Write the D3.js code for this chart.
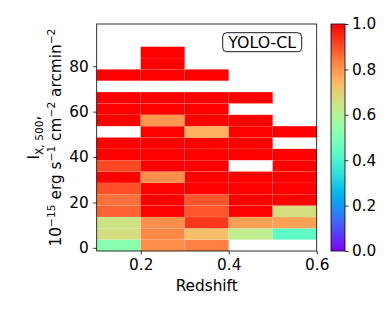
<!DOCTYPE html>
<html>
<head>
<meta charset="utf-8">
<script src="https://cdn.jsdelivr.net/npm/d3@7"></script>
<style>
  html, body { margin: 0; padding: 0; background: #fff; }
  svg { display: block; font-family: "DejaVu Sans", sans-serif; }
</style>
</head>
<body>
<svg id="chart" width="390" height="312"></svg>
<script>
// ---- data ----
const xEdges = [0.1, 0.2, 0.3, 0.4, 0.5, 0.6];
const yBinStarts = [-1.4, 3.6, 8.6, 13.6, 18.6, 23.6, 28.6, 33.6, 38.6, 43.6,
                    48.6, 53.6, 58.6, 63.6, 68.6, 73.6, 78.6, 83.6, 88.6, 93.6];
const binHeight = 5;
// values per redshift column, from the bottom row upwards (null = empty)
const col1 = [0.52, 0.665, 0.65, 0.875, 0.855, 0.90, 1, 0.91, 1, 1, null, 1, 1, 1, null, 1, null, null, null, null];
const col2 = [0.81, 0.822, 0.81, 1, 1, 1, 0.81, 1, 1, 1, 1, 0.80, 1, 1, null, 1, 1, 1, null, null];
const col3 = [0.833, 0.73, 0.93, 0.89, 0.89, 1, 1, 1, 1, 1, 0.757, 1, 1, 1, null, 1, null, null, null, null];
const col4 = [null, 0.625, 0.783, 1, 1, 1, 1, null, 1, 1, 1, 1, null, 1, null, null, null, null, null, null];
const col5 = [null, 0.435, 0.783, 0.667, 1, 1, 1, 1, 1, null, 1, null, null, null, null, null, null, null, null, null];
const columns = [col1, col2, col3, col4, col5];
const xTicks = [0.2, 0.4, 0.6];
const yTicks = [0, 20, 40, 60, 80];
const cbTicks = [0.0, 0.2, 0.4, 0.6, 0.8, 1.0];
const yDomain = [-1.4, 98.6];

// ---- layout ----
const svg = d3.select("#chart");
const plot = { left: 96.7, right: 316.7, top: 24, bottom: 251 };
const cb = { left: 331, right: 345, top: 24, bottom: 251 };
const FS = 15.3;

const x = d3.scaleLinear().domain([xEdges[0], xEdges[xEdges.length - 1]]).range([plot.left, plot.right]);
const y = d3.scaleLinear().domain(yDomain).range([plot.bottom, plot.top]);

// matplotlib "rainbow" colormap
function rainbow(t) {
  const r = Math.min(1, Math.abs(2 * t - 0.5));
  const g = Math.sin(Math.PI * t);
  const b = Math.cos(Math.PI * t / 2);
  return d3.rgb(r * 255, g * 255, b * 255).formatHex();
}
const color = d3.scaleSequential(rainbow).domain([0, 1]);

// ---- cells ----
const cells = [];
columns.forEach((col, i) => {
  col.forEach((v, j) => {
    if (v !== null) cells.push({ x0: xEdges[i], x1: xEdges[i + 1], y0: yBinStarts[j], y1: yBinStarts[j] + binHeight, v });
  });
});
svg.append("g").selectAll("rect").data(cells).join("rect")
  .attr("x", d => x(d.x0))
  .attr("y", d => y(d.y1))
  .attr("width", d => x(d.x1) - x(d.x0))
  .attr("height", d => y(d.y0) - y(d.y1))
  .attr("fill", d => color(d.v))
  .attr("stroke", "rgba(255,255,255,0.12)")
  .attr("stroke-width", 0.5);

// ---- axes ----
const xAxis = svg.append("g").attr("transform", `translate(0,${plot.bottom})`)
  .call(d3.axisBottom(x).tickValues(xTicks).tickFormat(d3.format(".1f")).tickSizeOuter(0).tickSize(3.5).tickPadding(4.5));
const yAxis = svg.append("g").attr("transform", `translate(${plot.left},0)`)
  .call(d3.axisLeft(y).tickValues(yTicks).tickFormat(d3.format("d")).tickSizeOuter(0).tickSize(3.5).tickPadding(4.5));
[xAxis, yAxis].forEach(a => {
  a.select(".domain").remove();
  a.selectAll("line").attr("stroke", "#000").attr("stroke-width", 0.8);
  a.selectAll("text").attr("font-size", FS).attr("fill", "#000").attr("font-family", "DejaVu Sans");
});

// frame
svg.append("rect")
  .attr("x", plot.left).attr("y", plot.top)
  .attr("width", plot.right - plot.left).attr("height", plot.bottom - plot.top)
  .attr("fill", "none").attr("stroke", "#000").attr("stroke-width", 0.8);

// axis labels
svg.append("text")
  .attr("x", (plot.left + plot.right) / 2).attr("y", 291)
  .attr("text-anchor", "middle").attr("font-size", FS).text("Redshift");

const yl = svg.append("text")
  .attr("transform", `translate(39,${(plot.top + plot.bottom) / 2}) rotate(-90)`)
  .attr("text-anchor", "middle").attr("font-size", FS);
yl.append("tspan").text("I");
yl.append("tspan").attr("font-size", FS * 0.7).attr("dy", 3.5).text("X, 500");
yl.append("tspan").attr("dy", -3.5).text(",");

const yl2 = svg.append("text")
  .attr("transform", `translate(61,${(plot.top + plot.bottom) / 2}) rotate(-90)`)
  .attr("text-anchor", "middle").attr("font-size", FS);
const sup = (txt) => {
  yl2.append("tspan").attr("font-size", FS * 0.7).attr("dy", -6).text(txt);
};
const norm = (txt) => {
  yl2.append("tspan").attr("font-size", FS).attr("dy", 6).text(txt);
};
yl2.append("tspan").text("10");
sup("\u221215");
norm(" erg s");
sup("\u22121");
norm(" cm");
sup("\u22122");
norm(" arcmin");
sup("\u22122");

// legend-like box
const boxG = svg.append("g");
boxG.append("rect")
  .attr("x", 222.7).attr("y", 32.7).attr("width", 79).attr("height", 19)
  .attr("rx", 4).attr("ry", 4)
  .attr("fill", "#fff").attr("stroke", "#000").attr("stroke-width", 0.9);
boxG.append("text")
  .attr("x", 262.2).attr("y", 47.8).attr("text-anchor", "middle")
  .attr("font-size", 15.8).text("YOLO-CL");

// ---- colorbar ----
const defs = svg.append("defs");
const grad = defs.append("linearGradient").attr("id", "cbgrad")
  .attr("x1", 0).attr("y1", 1).attr("x2", 0).attr("y2", 0);
d3.range(0, 1.0001, 0.02).forEach(t => {
  grad.append("stop").attr("offset", t).attr("stop-color", color(t));
});
svg.append("rect")
  .attr("x", cb.left).attr("y", cb.top)
  .attr("width", cb.right - cb.left).attr("height", cb.bottom - cb.top)
  .attr("fill", "url(#cbgrad)").attr("stroke", "#000").attr("stroke-width", 0.8);
const cbScale = d3.scaleLinear().domain([0, 1]).range([cb.bottom, cb.top]);
const cbAxis = svg.append("g").attr("transform", `translate(${cb.right},0)`)
  .call(d3.axisRight(cbScale).tickValues(cbTicks).tickFormat(d3.format(".1f")).tickSize(3.5).tickPadding(3.5));
cbAxis.select(".domain").remove();
cbAxis.selectAll("line").attr("stroke", "#000").attr("stroke-width", 0.8);
cbAxis.selectAll("text").attr("font-size", FS).attr("fill", "#000").attr("font-family", "DejaVu Sans");
</script>
</body>
</html>
